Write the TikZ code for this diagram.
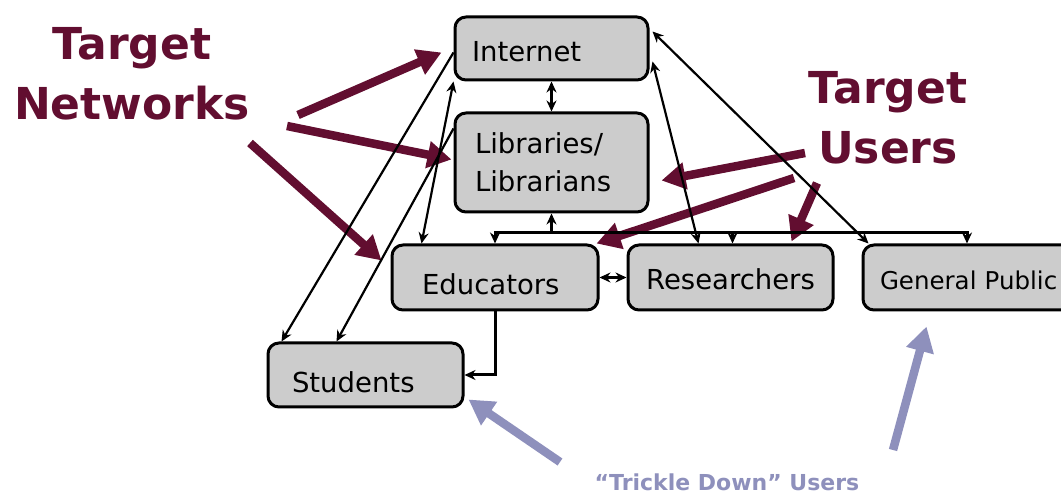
\documentclass[tikz,border=0pt]{standalone}
\usepackage{fontspec}
\setmainfont{DejaVu Sans}
\usetikzlibrary{arrows.meta,calc}

\definecolor{wine}{RGB}{98,14,48}
\definecolor{lilac}{RGB}{142,144,188}
\definecolor{boxgray}{RGB}{204,204,204}

\begin{document}
\begin{tikzpicture}[x=1pt, y=-1pt, >={Stealth[length=11pt,width=10pt]},
  box/.style={draw, line width=3pt, fill=boxgray, rounded corners=11pt,
    inner ysep=0pt, minimum height=64pt, align=left,
    font=\fontsize{27.5}{38}\selectfont},
  link/.style={line width=2.2pt},
  tree/.style={line width=3pt},
  target/.style={text=wine, align=center, font=\bfseries\fontsize{44}{60}\selectfont},
  push/.style={wine, line width=8.5pt, -{Triangle[length=24pt,width=26pt]}},
  trickle/.style={lilac, line width=8.5pt, -{Triangle[length=25pt,width=27pt]}}]

  % page frame (y grows downwards, one unit = one point)
  \useasboundingbox (0,0) rectangle (1061,494);
  \clip (0,0) rectangle (1061,494);

  % Boxes
  \node[box, text width=159pt, inner xsep=17pt, minimum height=63pt,
        text height=27pt, text depth=0pt] (inet) at (551.5,48.5) {Internet};
  \node[box, text width=153pt, inner xsep=20pt, minimum height=99pt]
        (lib) at (551.5,162.5) {Libraries/\\Librarians};
  \node[box, text width=146pt, inner xsep=30pt, minimum height=65pt,
        text height=35pt, text depth=0pt] (edu) at (495,277.5) {Educators};
  \node[box, text width=185pt, inner xsep=10pt, minimum height=65pt, align=center,
        text height=25pt, text depth=0pt] (res) at (730.5,277.5) {Researchers};
  \node[box, text width=180pt, inner xsep=17pt, minimum height=65pt,
        text height=25pt, text depth=0pt, font=\fontsize{24.5}{30}\selectfont]
        (gp) at (970,277.5) {General Public};
  \node[box, text width=147pt, inner xsep=24pt,
        text height=34pt, text depth=0pt] (stud) at (365.5,375) {Students};

  % Labels
  \node[target] (nets) at (132,74) {Target\\Networks};
  \node[target] (users) at (888,118) {Target\\Users};
  \node[text=lilac, font=\bfseries\fontsize{22}{26}\selectfont] (down) at (727,482)
        {``Trickle Down'' Users};

  % Thick pointers
  \coordinate (n1) at (298,115);
  \coordinate (n2) at (287,126);
  \coordinate (n3) at (250,143);
  \coordinate (u1) at (805,153);
  \coordinate (u2) at (794,178);
  \coordinate (u3) at (817,183);
  \coordinate (t1) at (560,462);
  \coordinate (t2) at (893,450);
  \draw[push] (n1) -- ($(inet.west)+(-12,4)$);
  \draw[push] (n2) -- ($(lib.west)+(-2,-3)$);
  \draw[push] (n3) -- ($(edu.north west)+(-9,17)$);
  \draw[push] (u1) -- ($(lib.east)+(12,18)$);
  \draw[push] (u2) -- ($(edu.north east)+(-3,0)$);
  \draw[push] (u3) -- ($(res.north east)+(-43,-2)$);
  \draw[trickle] (t1) -- ($(stud.south east)+(4,-9)$);
  \draw[trickle] (t2) -- ($(gp.south west)+(65,15)$);

  % Tree below the libraries
  \coordinate (bus) at ($(lib.south)+(0,19)$);
  \draw[tree, ->] (bus) -- (lib.south);
  \draw[tree, ->] (bus) -| (edu.north);
  \draw[tree, ->] (bus) -| ($(res.north)+(2,0)$);
  \draw[tree, ->] (bus) -| ($(gp.north)+(-3,0)$);
  \draw[tree, <->] (inet.south) -- (lib.north);
  \draw[tree, <->] (edu.east) -- (res.west);
  \draw[tree, ->] (edu.south) |- (stud.east);

  % Diagonal links
  \draw[link, ->] ($(inet.west)+(0,4)$) -- ($(stud.north west)+(15,0)$);
  \draw[link, ->] ($(lib.north west)+(0,17)$) -- ($(stud.north west)+(70,0)$);
  \draw[link, <->] (inet.south west) -- ($(edu.north west)+(31,0)$);
  \draw[link, <->] ($(inet.south east)+(3,-20)$) -- ($(res.north west)+(72,0)$);
  \draw[link, <->] ($(inet.north east)+(3,16)$) -- ($(gp.north west)+(7,0)$);
\end{tikzpicture}
\end{document}
